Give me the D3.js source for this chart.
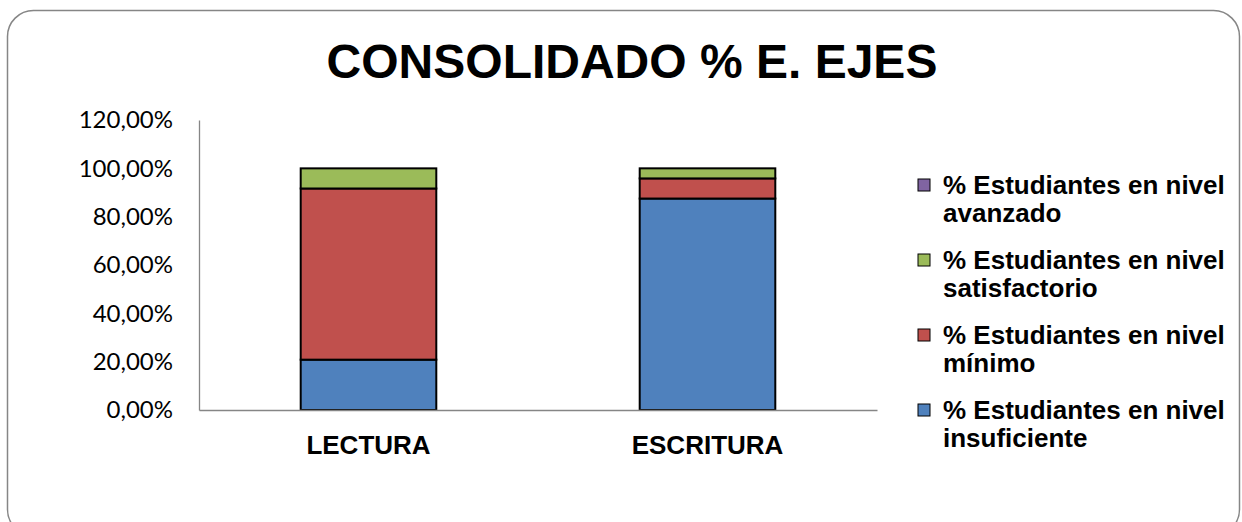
<!DOCTYPE html>
<html>
<head>
<meta charset="utf-8">
<script src="https://cdn.jsdelivr.net/npm/d3@7"></script>
<style>
  body { margin: 0; background: #fff; }
  svg { display: block; }
</style>
</head>
<body>
<svg></svg>
<script>
let width = 1242, height = 522;

let svg = d3.select("svg")
    .attr("width", width)
    .attr("height", height);

// data
let categories = ["LECTURA", "ESCRITURA"];
let seriesNames = [
    "% Estudiantes en nivel insuficiente",
    "% Estudiantes en nivel mínimo",
    "% Estudiantes en nivel satisfactorio",
    "% Estudiantes en nivel avanzado"
];
let insuficiente = [20.83, 87.5];
let minimo = [70.83, 8.33];
let satisfactorio = [8.33, 4.17];
let avanzado = [0, 0];
let yTicks = [0, 20, 40, 60, 80, 100, 120];
let colors = ["#4F81BD", "#C0504D", "#9BBB59", "#8064A2"];

let rows = categories.map((c, i) => ({
    cat: c,
    s0: insuficiente[i],
    s1: minimo[i],
    s2: satisfactorio[i],
    s3: avanzado[i]
}));
let keys = ["s0", "s1", "s2", "s3"];
let stacked = d3.stack().keys(keys)(rows);

// outer frame
svg.append("rect")
    .attr("x", 7.5).attr("y", 10.5)
    .attr("width", 1232).attr("height", 525)
    .attr("rx", 26).attr("ry", 26)
    .attr("fill", "#fff")
    .attr("stroke", "#868686")
    .attr("stroke-width", 1.5);

// title
svg.append("text")
    .attr("x", 632).attr("y", 78)
    .attr("text-anchor", "middle")
    .style("font-family", "Liberation Sans, Arial, sans-serif")
    .style("font-weight", "bold")
    .style("font-size", "48px")
    .text("CONSOLIDADO % E. EJES");

let plotLeft = 199, plotRight = 877, plotTop = 120, plotBottom = 410;

let x = d3.scaleBand()
    .domain(categories)
    .range([plotLeft, plotRight])
    .paddingInner(0.6)
    .paddingOuter(0.3);

let y = d3.scaleLinear()
    .domain([0, 120])
    .range([plotBottom, plotTop]);

// y axis
let yAxis = svg.append("g")
    .attr("transform", "translate(" + plotLeft + ",0)")
    .call(d3.axisLeft(y).tickValues(yTicks).tickSize(0).tickPadding(26)
        .tickFormat(d => d3.format(".2f")(d).replace(".", ",") + "%"));
yAxis.select(".domain").attr("stroke", "#868686").attr("stroke-width", 1.3);
yAxis.selectAll("text")
    .style("font-family", "Lato, Carlito, sans-serif")
    .style("font-size", "24px")
    .attr("fill", "#000");

// bars
svg.append("g")
    .selectAll("g")
    .data(stacked)
    .enter()
    .append("g")
    .attr("fill", (d, i) => colors[i])
    .selectAll("rect")
    .data(d => d.filter(p => p[1] - p[0] > 0))
    .enter()
    .append("rect")
    .attr("x", d => x(d.data.cat))
    .attr("width", x.bandwidth())
    .attr("y", d => y(d[1]))
    .attr("height", d => y(d[0]) - y(d[1]))
    .attr("stroke", "#000")
    .attr("stroke-width", 2);

// x axis
let xAxis = svg.append("g")
    .attr("transform", "translate(0," + plotBottom + ")")
    .call(d3.axisBottom(x).tickSize(0).tickPadding(26));
xAxis.select(".domain").attr("stroke", "#868686").attr("stroke-width", 1.3);
xAxis.selectAll("text")
    .style("font-family", "Liberation Sans, Arial, sans-serif")
    .style("font-weight", "bold")
    .style("font-size", "26px")
    .attr("fill", "#000");

// legend (reverse order, top = avanzado)
let legendData = seriesNames.map((n, i) => ({ name: n, color: colors[i] })).reverse();
let legend = svg.append("g")
    .selectAll("g")
    .data(legendData)
    .enter()
    .append("g")
    .attr("transform", (d, i) => "translate(918," + (185 + i * 75) + ")");

legend.append("rect")
    .attr("x", 0).attr("y", -6)
    .attr("width", 12).attr("height", 12)
    .attr("fill", d => d.color)
    .attr("stroke", "#000")
    .attr("stroke-width", 1);

legend.append("text")
    .attr("x", 24)
    .style("font-family", "Liberation Sans, Arial, sans-serif")
    .style("font-weight", "bold")
    .style("font-size", "26px")
    .attr("fill", "#000")
    .selectAll("tspan")
    .data(d => {
        let parts = d.name.split(" ");
        return [parts.slice(0, 4).join(" "), parts.slice(4).join(" ")];
    })
    .enter()
    .append("tspan")
    .attr("x", 25)
    .attr("y", (d, i) => 9 + i * 28)
    .text(d => d);
</script>
</body>
</html>
